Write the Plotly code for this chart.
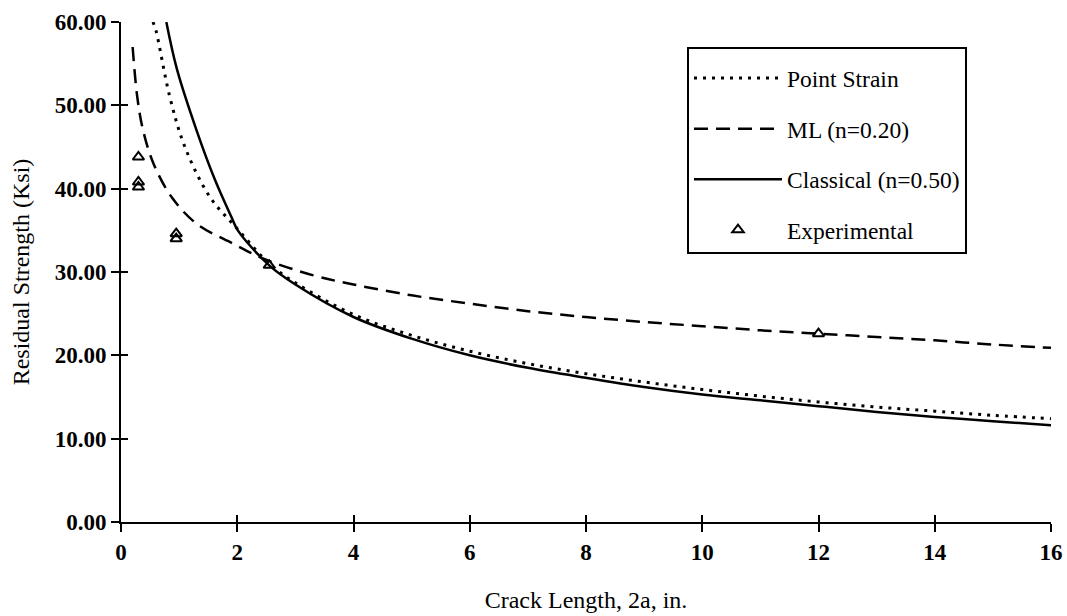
import plotly.graph_objects as go

# ---- data ----
classical_x = [0.78, 0.96, 1.30, 1.62, 1.90, 2.01, 2.55, 3.0, 4.0, 5.0, 6.0, 7.0, 8.0,
               9.0, 10.0, 11.0, 12.0, 13.0, 14.0, 15.0, 16.0]
classical_y = [60.0, 54.4, 47.0, 41.0, 36.6, 35.0, 30.8, 28.5, 24.6, 22.0, 20.0, 18.5, 17.3,
               16.2, 15.3, 14.6, 13.9, 13.2, 12.6, 12.1, 11.6]

point_x = [0.55, 0.60, 0.84, 1.10, 1.53, 2.0, 2.55, 3.0, 4.0, 5.0, 6.0, 7.0, 8.0,
           9.0, 10.0, 11.0, 12.0, 13.0, 14.0, 15.0, 16.0]
point_y = [60.0, 59.0, 51.0, 45.0, 39.0, 35.2, 31.0, 28.7, 24.9, 22.4, 20.5, 19.0, 17.8,
           16.8, 15.9, 15.1, 14.4, 13.8, 13.3, 12.8, 12.4]

ml_x = [0.20, 0.28, 0.38, 0.56, 0.87, 1.30, 1.93, 2.45, 3.31, 4.0, 5.0, 6.0, 7.0, 8.0,
        9.0, 10.0, 11.0, 12.0, 13.0, 14.0, 15.0, 16.0]
ml_y = [57.0, 51.0, 47.0, 43.0, 39.0, 35.8, 33.4, 31.6, 29.6, 28.5, 27.2, 26.2, 25.3, 24.6,
        24.0, 23.5, 23.0, 22.6, 22.2, 21.8, 21.3, 20.9]

exp_x = [0.3, 0.3, 0.3, 0.95, 0.95, 2.55, 12.0]
exp_y = [43.8, 40.8, 40.2, 34.6, 34.0, 30.8, 22.6]

x_ticks = [0, 2, 4, 6, 8, 10, 12, 14, 16]
y_ticks = [0, 10, 20, 30, 40, 50, 60]

FONT = "Liberation Serif"

fig = go.Figure()
fig.add_trace(go.Scatter(x=point_x, y=point_y, mode="lines", name="Point Strain",
                         line=dict(color="black", width=3, dash="3px,6px", shape="spline"),
                         legendgroup="a"))
fig.add_trace(go.Scatter(x=ml_x, y=ml_y, mode="lines", name="ML (n=0.20)",
                         line=dict(color="black", width=2.5, dash="14px,8px", shape="spline"),
                         legendgroup="b"))
fig.add_trace(go.Scatter(x=classical_x, y=classical_y, mode="lines", name="Classical (n=0.50)",
                         line=dict(color="black", width=2.5, shape="spline"),
                         legendgroup="c"))
fig.add_trace(go.Scatter(x=exp_x, y=exp_y, mode="markers", name="Experimental",
                         marker=dict(symbol="triangle-up-open", size=10, color="black",
                                     line=dict(width=2, color="black")),
                         legendgroup="d"))
# empty trace to activate the inner-tick overlay axes
fig.add_trace(go.Scatter(x=[], y=[], xaxis="x2", yaxis="y2", showlegend=False,
                         hoverinfo="skip"))

fig.update_layout(
    width=1067, height=616,
    margin=dict(l=121, r=16, t=22, b=94),
    paper_bgcolor="white", plot_bgcolor="white",
    font=dict(family=FONT, color="black", size=20),
    xaxis=dict(range=[0, 16], tickvals=x_ticks, ticktext=[str(v) for v in x_ticks],
               showline=True, linecolor="black", linewidth=2, ticks="outside",
               ticklen=8, tickwidth=2, tickcolor="black", showgrid=False, zeroline=False,
               automargin=False,
               tickfont=dict(family=FONT, size=23, weight="bold"),
               title=dict(text="Crack Length, 2a, in.", font=dict(family=FONT, size=24),
                          standoff=28)),
    yaxis=dict(range=[0, 60], tickvals=y_ticks, tickformat=".2f",
               showline=True, linecolor="black", linewidth=2, ticks="outside",
               ticklen=8, tickwidth=2, tickcolor="black", showgrid=False, zeroline=False,
               automargin=False,
               tickfont=dict(family=FONT, size=23, weight="bold"),
               title=dict(text="Residual Strength (Ksi)", font=dict(family=FONT, size=24),
                          standoff=18)),
    xaxis2=dict(overlaying="x", anchor="y", side="bottom", range=[0, 16], tickvals=x_ticks,
                ticks="inside", ticklen=7, tickwidth=2, tickcolor="black",
                showticklabels=False, showgrid=False, zeroline=False, showline=False),
    yaxis2=dict(overlaying="y", anchor="x", side="left", range=[0, 60], tickvals=y_ticks,
                ticks="inside", ticklen=7, tickwidth=2, tickcolor="black",
                showticklabels=False, showgrid=False, zeroline=False, showline=False),
    showlegend=True,
    legend=dict(x=0.6086, y=0.951, xanchor="left", yanchor="top",
                bgcolor="white", bordercolor="black", borderwidth=2,
                font=dict(family=FONT, size=23.5), itemwidth=88,
                title=dict(text=" ", font=dict(family=FONT, size=6)),
                tracegroupgap=17, traceorder="grouped"),
)

fig.write_html("out.html", config={"displayModeBar": False},
               post_script="document.body.style.margin='0px';document.body.style.padding='0px';")
